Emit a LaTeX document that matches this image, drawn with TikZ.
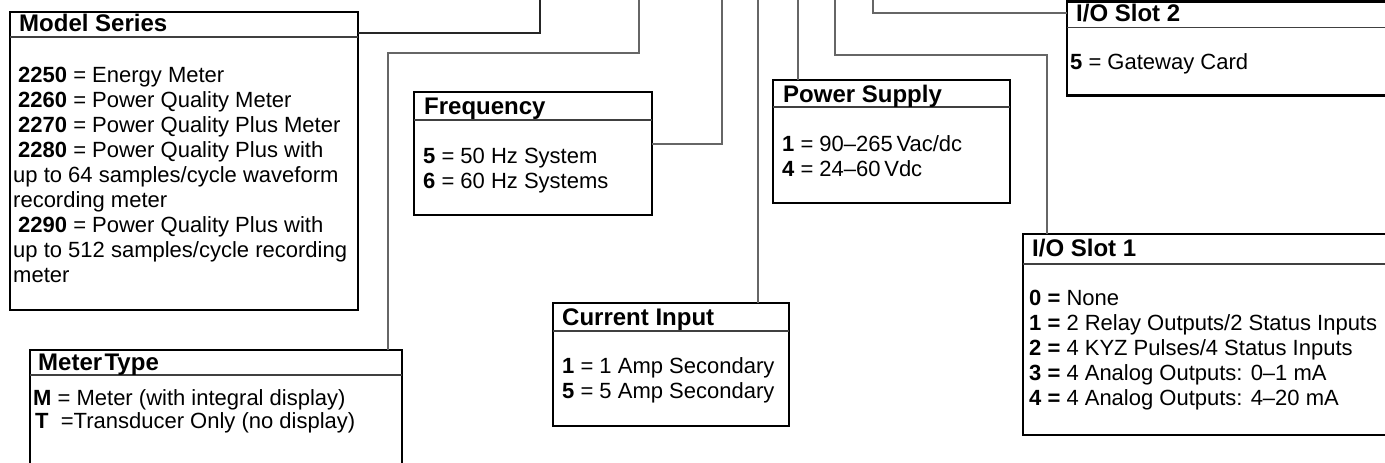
\documentclass[tikz,border=0pt]{standalone}
\usepackage{fontspec}
\setmainfont{Liberation Sans}
\begin{document}
\begin{tikzpicture}[x=1pt,y=-1pt,
  box/.style={draw=black,line width=2.6pt,rectangle,anchor=north west,inner sep=0pt,outer sep=0pt},
  divider/.style={draw=black!75,line width=1.1pt},
  conn/.style={draw=black!60,line width=1.2pt},
  ttl/.style={anchor=base west,inner sep=0pt,font=\fontsize{24}{25}\selectfont\bfseries},
  txt/.style={anchor=base west,inner sep=0pt,font=\fontsize{22}{25}\selectfont}]
\clip (0,0) rectangle (1385,463);
\fill[white] (0,0) rectangle (1385,463);

% boxes
\node[box,minimum width=348pt,minimum height=298pt] (model) at (10,12) {};
\node[box,minimum width=372pt,minimum height=130pt] (meter) at (30,350) {};
\node[box,minimum width=238pt,minimum height=123pt] (freq) at (414,92) {};
\node[box,minimum width=236pt,minimum height=123pt] (cur) at (553,303) {};
\node[box,minimum width=237pt,minimum height=123pt] (pow) at (773,80) {};
\node[box,minimum width=340pt,minimum height=94pt] (slot2) at (1067,1.5) {};
\node[box,minimum width=380pt,minimum height=201pt] (slot1) at (1023,234) {};

% dividers
\draw[divider] ([yshift=-25pt]model.north west) -- ([yshift=-25pt]model.north east);
\draw[divider] ([yshift=-25pt]meter.north west) -- ([yshift=-25pt]meter.north east);
\draw[divider] ([yshift=-28pt]freq.north west) -- ([yshift=-28pt]freq.north east);
\draw[divider] ([yshift=-28pt]cur.north west) -- ([yshift=-28pt]cur.north east);
\draw[divider] ([yshift=-27pt]pow.north west) -- ([yshift=-27pt]pow.north east);
\draw[divider] ([yshift=-26pt]slot2.north west) -- ([yshift=-26pt]slot2.north east);
\draw[divider] ([yshift=-30pt]slot1.north west) -- ([yshift=-30pt]slot1.north east);

% titles
\node[ttl] (tmodel) at (19,31) {Model Series};
\node[ttl] (tmeter) at (38,370) {Meter\hspace{0.1em}Type};
\node[ttl] (tfreq) at (424,114) {Frequency};
\node[ttl] (tcur) at (562,325) {Current Input};
\node[ttl] (tpow) at (783,102) {Power Supply};
\node[ttl] (tslot2) at (1076,21) {I/O Slot 2};
\node[ttl] (tslot1) at (1032,256) {I/O Slot 1};

% model series text
\node[txt] (m1) at (18,82) {\textbf{2250} = Energy Meter};
\node[txt] (m2) at (18,107) {\textbf{2260} = Power Quality Meter};
\node[txt] (m3) at (18,132) {\textbf{2270} = Power Quality Plus Meter};
\node[txt] (m4) at (18,157) {\textbf{2280} = Power Quality Plus with};
\node[txt] (m5) at (13,182) {up to 64 samples/cycle waveform};
\node[txt] (m6) at (13,207) {recording meter};
\node[txt] (m7) at (18,232) {\textbf{2290} = Power Quality Plus with};
\node[txt] (m8) at (13,257) {up to 512 samples/cycle recording};
\node[txt] (m9) at (13,282) {meter};

% meter type text
\node[txt] (mt1) at (33,405) {\textbf{M} = Meter (with integral display)};
\node[txt] (mt2) at (35,428) {\textbf{T}\ \ =Transducer Only (no display)};

% frequency text
\node[txt] (f1) at (423,163) {\textbf{5} = 50 Hz System};
\node[txt] (f2) at (423,188) {\textbf{6} = 60 Hz Systems};

% current input text
\node[txt] (c1) at (562,373) {\textbf{1} = 1 Amp Secondary};
\node[txt] (c2) at (562,398) {\textbf{5} = 5 Amp Secondary};

% power supply text
\node[txt] (p1) at (782,151) {\textbf{1} = 90–265\,Vac/dc};
\node[txt] (p2) at (782,176) {\textbf{4} = 24–60\,Vdc};

% slot 2 text
\node[txt] (s21) at (1070,69) {\textbf{5} = Gateway Card};

% slot 1 text
\node[txt] (s11) at (1029,305) {\textbf{0 =} None};
\node[txt] (s12) at (1029,330) {\textbf{1 =} 2 Relay Outputs/2 Status Inputs};
\node[txt] (s13) at (1029,355) {\textbf{2 =} 4 KYZ Pulses/4 Status Inputs};
\node[txt] (s14) at (1029,380) {\textbf{3 =} 4 Analog Outputs: 0–1 mA};
\node[txt] (s15) at (1029,405) {\textbf{4 =} 4 Analog Outputs: 4–20 mA};

% connector end points
\coordinate (t1) at (540,0);
\coordinate (c2b) at (388,53);
\coordinate (t2) at (639,0);
\coordinate (t3) at (722,0);
\coordinate (t4) at (758,0);
\coordinate (t5) at (798,0);
\coordinate (c6) at (1047,55);
\coordinate (t6) at (835,0);
\coordinate (t7) at (873,0);

% connectors
\draw[conn,draw=black!85] ([yshift=-21pt]model.north east) -| (t1);
\draw[conn] (meter.north -| c2b) -- (c2b) -| (t2);
\draw[conn] ([yshift=-52pt]freq.north east) -| (t3);
\draw[conn] (cur.north -| t4) -- (t4);
\draw[conn] (pow.north -| t5) -- (t5);
\draw[conn] (slot1.north -| c6) -- (c6) -| (t6);
\draw[conn] ([yshift=-11.5pt]slot2.north west) -| (t7);
\end{tikzpicture}
\end{document}
